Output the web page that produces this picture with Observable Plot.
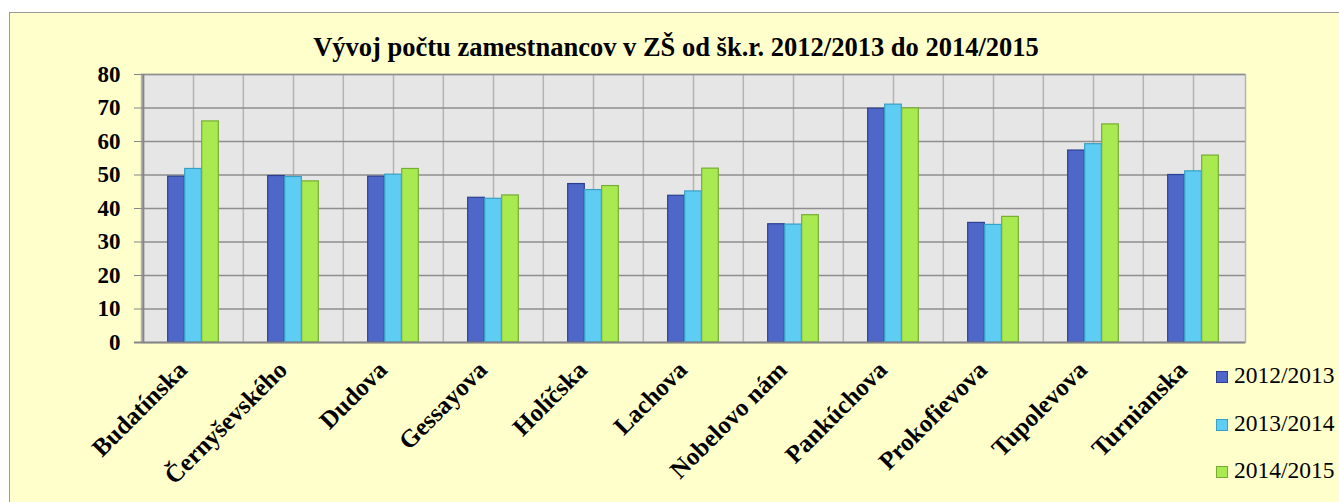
<!DOCTYPE html>
<html>
<head>
<meta charset="utf-8">
<script src="https://cdn.jsdelivr.net/npm/d3@7"></script>
<script src="https://cdn.jsdelivr.net/npm/@observablehq/plot@0.6"></script>
<style>
  html, body { margin: 0; padding: 0; background: #ffffff; overflow: hidden; }
  #page { position: relative; width: 1339px; height: 502px; overflow: hidden; }
  #box { position: absolute; left: 9px; top: 12px; width: 1400px; height: 600px;
         background: #FFFFCC; border: 1px solid #9a9a9a; }
  #chart { position: absolute; left: 0; top: 0; }
  #title { position: absolute; left: 0; width: 1352px; top: 34px; text-align: center;
           font: bold 26.5px "Liberation Serif", "Times New Roman", serif; line-height: 26.5px; color: #000; white-space: nowrap; }
  .lg { position: absolute; font: 23.5px "Liberation Serif", "Times New Roman", serif; line-height: 23.5px; color: #000; white-space: nowrap; }
  .sw { position: absolute; width: 10px; height: 10px; border: 1.5px solid; }
</style>
</head>
<body>
<div id="page">
  <div id="box"></div>
  <div id="chart"></div>
  <div id="title">Vývoj počtu zamestnancov v ZŠ od šk.r. 2012/2013 do 2014/2015</div>
  <div id="legend"></div>
</div>
<script>
const schools = ["Budatínska", "Černyševského", "Dudova", "Gessayova", "Holíčska", "Lachova",
                 "Nobelovo nám", "Pankúchova", "Prokofievova", "Tupolevova", "Turnianska"];
const series = ["2012/2013", "2013/2014", "2014/2015"];
const v2012 = [49.5, 49.7, 49.5, 43.2, 47.3, 43.8, 35.3, 69.8, 35.7, 57.3, 50.0];
const v2013 = [51.8, 49.4, 50.1, 42.9, 45.5, 45.1, 35.2, 71.0, 35.1, 59.2, 51.1];
const v2014 = [66.0, 48.1, 51.8, 43.9, 46.7, 51.9, 38.0, 69.9, 37.5, 65.1, 55.8];
const yTicks = [0, 10, 20, 30, 40, 50, 60, 70, 80];

const fills = ["#4f67c9", "#5fcdf3", "#a8ea4f"];
const strokes = ["#2c3f90", "#3a9fc4", "#78ad33"];

const values = [v2012, v2013, v2014];
const rows = [];
series.forEach((s, si) => schools.forEach((c, ci) => rows.push({school: c, series: s, si, value: values[si][ci]})));

const W = 1339, H = 502;
const mL = 141, mR = 94, mT = 74, mB = 160;
const bw = (W - mL - mR) / schools.length;
const barW = 17;
const inset = (bw - barW) / 2;

const marks = [
  Plot.frame({fill: "#e6e6e6", stroke: "#b4b4b4", strokeWidth: 1.5}),
  Plot.ruleX(schools, {x: d => d, stroke: "#b4b4b4", strokeWidth: 1.5}),
  Plot.ruleX(schools, {x: d => d, dx: -bw / 2, stroke: "#b4b4b4", strokeWidth: 1.5}),
  Plot.ruleY(yTicks.filter(t => t > 0), {y: d => d, stroke: "#8e8e8e", strokeWidth: 1.5}),
];
series.forEach((s, si) => {
  marks.push(Plot.barY(rows.filter(r => r.si === si), {
    x: "school", y: "value", dx: (si - 1) * barW,
    insetLeft: inset, insetRight: inset,
    fill: fills[si], stroke: strokes[si], strokeWidth: 1.2
  }));
});
marks.push(
  Plot.ruleY([0], {stroke: "#868686", strokeWidth: 2, insetLeft: -7}),
  Plot.ruleX([schools[0]], {dx: -bw / 2, stroke: "#868686", strokeWidth: 2}),
  Plot.text(schools, {x: d => d, frameAnchor: "bottom", rotate: -45, textAnchor: "end",
    dx: -5, dy: 29, fontSize: 25, fontWeight: "bold", fill: "#000"})
);

const chart = Plot.plot({
  width: W, height: H,
  marginLeft: mL, marginRight: mR, marginTop: mT, marginBottom: mB,
  style: {background: "transparent", fontFamily: "'Liberation Serif', 'Times New Roman', serif",
          fontSize: "23px", fontWeight: "bold", color: "#000"},
  x: {type: "band", domain: schools, padding: 0, axis: null},
  y: {domain: [0, 80], ticks: yTicks, tickSize: 7, tickPadding: 14, label: null, tickFormat: d => String(d)},
  marks
});
document.getElementById("chart").appendChild(chart);
chart.querySelectorAll("g[aria-label='y-axis tick'] path, g[aria-label='y-axis'] line").forEach(e => e.setAttribute("stroke", "#868686"));

const legend = document.getElementById("legend");
const baselines = [384, 432, 479];
series.forEach((s, si) => {
  const sw = document.createElement("div");
  sw.className = "sw";
  sw.style.left = "1216px";
  sw.style.top = (baselines[si] - 13) + "px";
  sw.style.background = fills[si];
  sw.style.borderColor = strokes[si];
  legend.appendChild(sw);
  const t = document.createElement("div");
  t.className = "lg";
  t.style.left = "1234px";
  t.style.top = (baselines[si] - 19.7) + "px";
  t.textContent = s;
  legend.appendChild(t);
});
</script>
</body>
</html>
